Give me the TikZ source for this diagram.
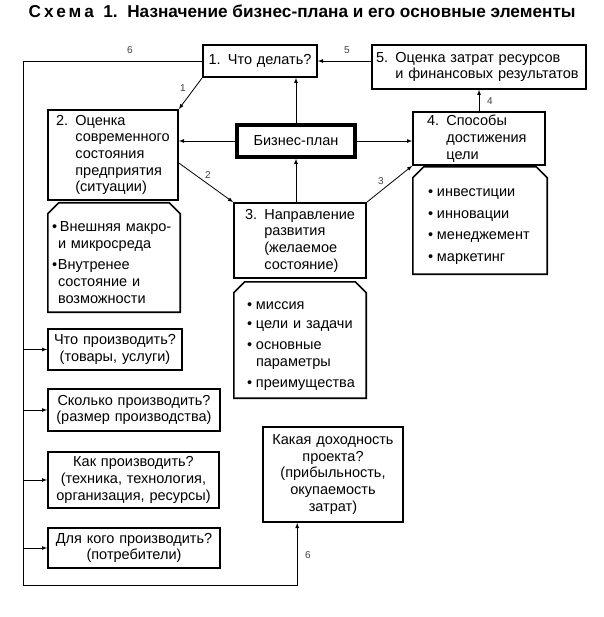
\documentclass[tikz,border=0pt]{standalone}
\usepackage{fontspec}
\setmainfont{Liberation Sans}
\newcommand\bul{\makebox[9pt][l]{•}}
\newcommand\ind{\hspace*{9pt}}
\newcommand\topstrut{\rule{0pt}{20pt}}
\begin{document}
\begin{tikzpicture}[>=latex, x=1pt, y=-1pt,
    txt/.style={font=\fontsize{14.5}{16.7}\selectfont},
    box/.style={draw, line width=1.6pt, inner xsep=4pt, inner ysep=0pt, txt},
    sub/.style={inner ysep=0pt, align=left, txt},
    lnk/.style={->, line width=0.8pt},
    num/.style={font=\fontsize{10}{12}\selectfont, text=black!75}]
    \useasboundingbox (0,0) rectangle (603,617);

    \node[anchor=base west] (title) at (25,18) {\fontsize{17.2}{19}\bfseries{\addfontfeatures{LetterSpace=18}Схема}\ \ 1.\ \ Назначение бизнес-плана и его основные элементы};

    % top row
    \node[box, align=center, text width=106pt, minimum height=32pt] (do) at (260,61) {1. Что делать?};
    \node[box, align=left, text width=206pt, minimum height=44pt] (cost) at (479,67) {5. Оценка затрат ресурсов\\\phantom{5. }и финансовых результатов};
    \node[box, line width=3.5pt, align=center, text width=110pt, minimum height=32pt] (plan) at (296,141) {Бизнес-план};

    % the three stages
    \node[box, align=left, inner xsep=8pt, text width=114pt, minimum height=90pt] (state) at (113,155) {2. Оценка\\\phantom{2. }современного\\\phantom{2. }состояния\\\phantom{2. }предприятия\\\phantom{2. }(ситуации)};
    \node[box, align=left, inner xsep=11pt, text width=110pt, minimum height=75pt] (goal) at (300,240.5) {3. Направление\\\phantom{3. }развития\\\phantom{3. }(желаемое\\\phantom{3. }состояние)};
    \node[box, align=left, inner xsep=14pt, text width=104pt, minimum height=53pt] (ways) at (479,138.5) {4. Способы\\\phantom{4. }достижения\\\phantom{4. }цели};

    \node[sub, inner xsep=4pt, text width=124pt, minimum height=109pt] (env) at (114,257.5) {\topstrut\makebox[8pt][l]{•}Внешняя макро-\\\hspace*{6pt}и микросреда\\[5pt]\makebox[6pt][l]{•}Внутренее\\\hspace*{6pt}состояние и\\\hspace*{6pt}возможности};
    \node[sub, inner xsep=13pt, text width=106pt, minimum height=116pt] (mission) at (300,340) {\topstrut\bul миссия\\[3pt]\bul цели и задачи\\[4pt]\bul основные\\\ind параметры\\[5pt]\bul преимущества};
    \node[sub, inner xsep=15pt, text width=104pt, minimum height=107pt] (tools) at (480,220.5) {\topstrut\bul инвестиции\\[5pt]\bul инновации\\[5pt]\bul менеджемент\\[5pt]\bul маркетинг};
    \foreach \s in {env,mission,tools}
        \draw[line width=1.6pt] (\s.south west) -- ([yshift=-11pt]\s.north west) -- ([xshift=11pt]\s.north west) -- ([xshift=-11pt]\s.north east) -- ([yshift=-11pt]\s.north east) -- (\s.south east) -- cycle;

    % questions
    \node[box, align=center, text width=126pt, minimum height=41pt] (what) at (115,349.5) {Что производить?\\(товары, услуги)};
    \node[box, align=center, text width=164pt, minimum height=42pt] (qty) at (134,410) {Сколько производить?\\(размер производства)};
    \node[box, align=center, text width=163pt, minimum height=56pt] (how) at (133.5,480) {Как производить?\\(техника, технология,\\организация, ресурсы)};
    \node[box, align=center, text width=164pt, minimum height=40pt] (whom) at (134,548) {Для кого производить?\\(потребители)};
    \node[box, align=center, text width=132pt, minimum height=95pt] (profit) at (333,474.5) {Какая доходность\\проекта?\\(прибыльность,\\окупаемость\\затрат)};

    % connectors
    \draw[lnk] (cost.west |- do.east) -- (do.east);
    \draw[lnk] (plan.north) -- (plan.north |- do.south);
    \draw[lnk] (plan.south |- goal.north) -- (plan.south);
    \draw[lnk] (plan.west) -- (plan.west -| state.east);
    \draw[lnk] (plan.east) -- (plan.east -| ways.west);
    \draw[lnk] (do.south west) -- (state.north east);
    \draw[lnk] ([yshift=-8pt]state.east) -- (goal.north west);
    \draw[lnk] (goal.north east) -- (ways.south west);
    \draw[lnk] (ways.north) -- (ways.north |- cost.south);

    \coordinate (c1) at (23,61);
    \coordinate (c2) at (23,585);
    \draw[lnk] (do.west) -- (c1) -- (c2) -| ([xshift=35pt]profit.south west);
    \foreach \b in {what,qty,how,whom}
        \draw[lnk] (\b.west -| c1) -- (\b.west);

    \node[num] (n6) at (130,50) {6};
    \node[num] (n5) at (347,50) {5};
    \node[num] (n1) at (183,88) {1};
    \node[num] (n2) at (208,175) {2};
    \node[num] (n3) at (381,181) {3};
    \node[num] (n4) at (490,101) {4};
    \node[num] (n7) at (308,555) {6};
\end{tikzpicture}
\end{document}
